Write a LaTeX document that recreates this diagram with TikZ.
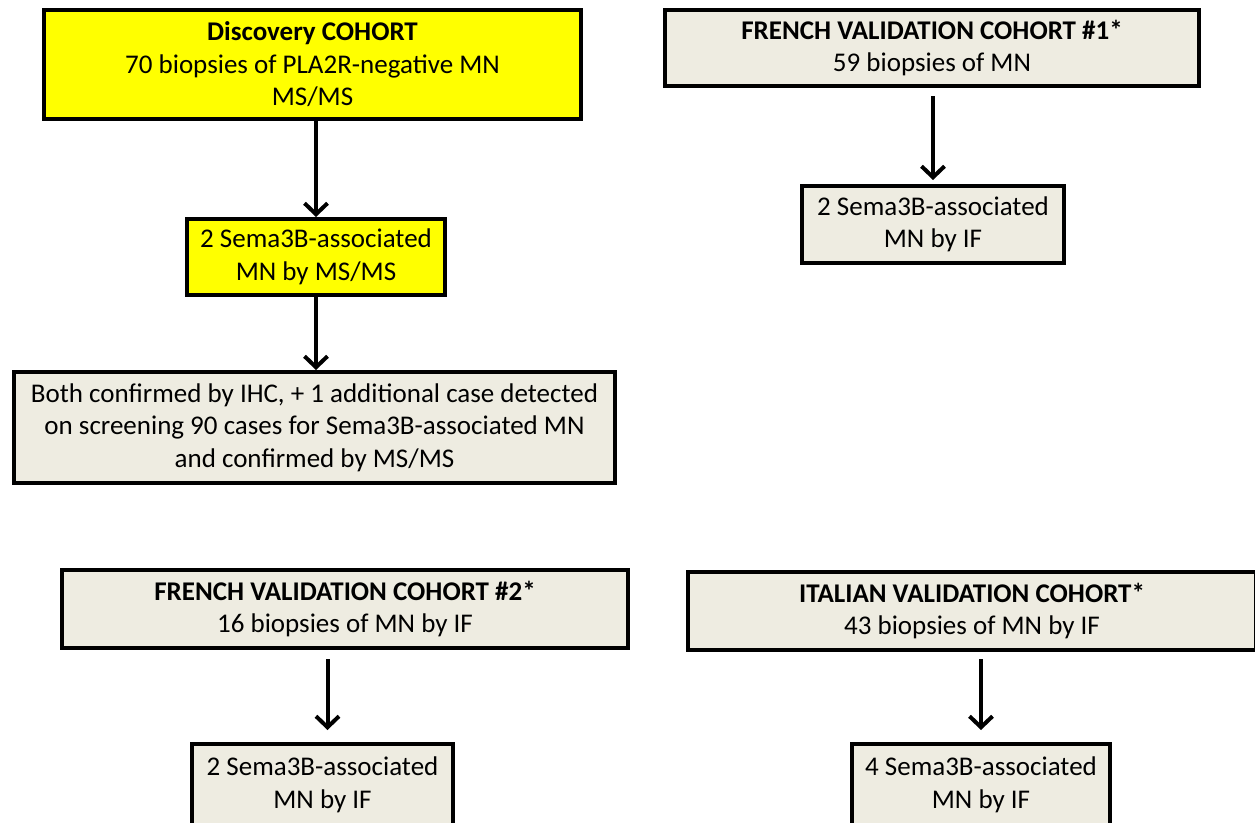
\documentclass[tikz,border=0pt]{standalone}
\usepackage{fontspec}
\setmainfont{Carlito}
\usetikzlibrary{arrows.meta}
\definecolor{beige}{HTML}{EEECE1}
\definecolor{yel}{HTML}{FFFF00}
\tikzset{
  box/.style={draw=black, line width=4pt, fill=beige, align=center, inner sep=0pt,
    font=\fontsize{27}{32.5}\selectfont},
  ybox/.style={box, fill=yel},
  arr/.style={line width=4pt, -{Straight Barb[length=11pt,width=23pt,line width=4pt]}}
}
\begin{document}
\begin{tikzpicture}[x=1pt,y=-1pt]
\useasboundingbox (0,0) rectangle (1255,822);
\fill[white] (0,0) rectangle (1255,822);
\node[ybox, minimum width=537pt, minimum height=109pt] (disc) at (312.5,64.5)
  {\textbf{Discovery COHORT}\\70 biopsies of PLA2R-negative MN\\MS/MS};
\node[ybox, minimum width=258pt, minimum height=76pt] (sema1) at (316,257)
  {2 Sema3B-associated\\MN by MS/MS};
\node[box, minimum width=601pt, minimum height=111pt] (both) at (314.5,427.5)
  {Both confirmed by IHC, + 1 additional case detected\\on screening 90 cases for Sema3B-associated MN\\and confirmed by MS/MS};
\node[box, minimum width=534pt, minimum height=76pt] (fr1) at (932,48)
  {\textbf{FRENCH VALIDATION COHORT \#1*}\\59 biopsies of MN};
\node[box, minimum width=262pt, minimum height=77pt] (sfr1) at (933,224.5)
  {2 Sema3B-associated\\MN by IF};
\node[box, minimum width=566pt, minimum height=78pt] (fr2) at (345,609)
  {\textbf{FRENCH VALIDATION COHORT \#2*}\\16 biopsies of MN by IF};
\node[box, minimum width=261pt, minimum height=82pt] (sfr2) at (322.5,785)
  {2 Sema3B-associated\\MN by IF};
\node[box, minimum width=568pt, minimum height=78pt] (it) at (972,611)
  {\textbf{ITALIAN VALIDATION COHORT*}\\43 biopsies of MN by IF};
\node[box, minimum width=258pt, minimum height=82pt] (sit) at (981,785)
  {4 Sema3B-associated\\MN by IF};
\draw[arr] (sema1.north |- disc.south) -- (sema1.north);
\draw[arr] (sema1.south) -- (sema1.south |- both.north);
\draw[arr, shorten <=8pt, shorten >=4pt] (sfr1.north |- fr1.south) -- (sfr1.north);
\draw[arr, shorten <=9pt, shorten >=12pt] ([xshift=5pt]sfr2.north |- fr2.south) -- ([xshift=5pt]sfr2.north);
\draw[arr, shorten <=7pt, shorten >=12pt] (sit.north |- it.south) -- (sit.north);
\end{tikzpicture}
\end{document}
